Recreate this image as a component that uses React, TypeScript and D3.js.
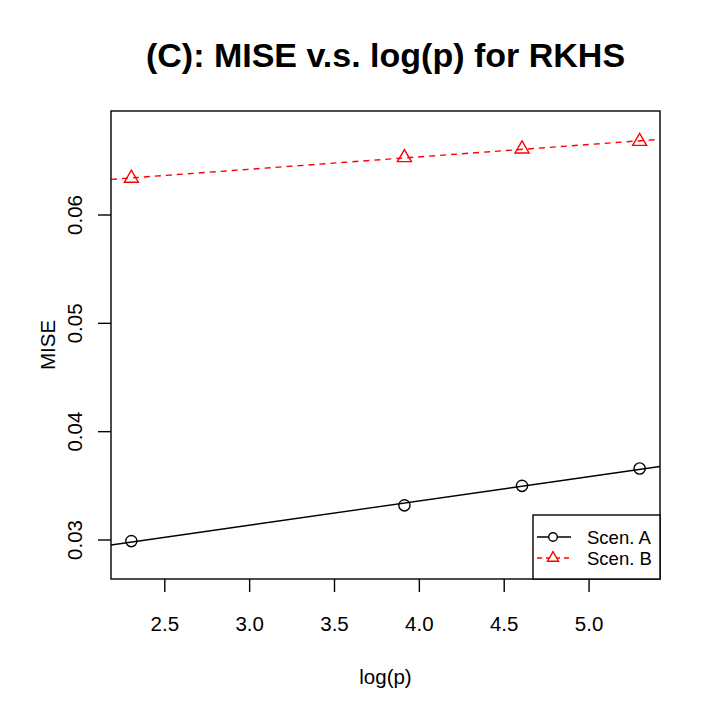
import React from 'react';
import * as d3 from 'd3';

const logP = [2.303, 3.912, 4.605, 5.298];
const miseA = [0.0299, 0.0332, 0.035, 0.0366];
const miseB = [0.0634, 0.0653, 0.0661, 0.0668];
const xTicks = [2.5, 3.0, 3.5, 4.0, 4.5, 5.0];
const yTicks = [0.03, 0.04, 0.05, 0.06];
const seriesNames = ['Scen. A', 'Scen. B'];

const W = 718;
const H = 718;
const plot = { left: 111, right: 660, top: 111, bottom: 579 };
const font = 'Liberation Sans, Arial, Helvetica, sans-serif';
const fs = 20.5;
const legendFs = 18.5;

// least squares fit, drawn across the whole panel like abline(lm(...))
function fit(xs: number[], ys: number[]) {
  const mx = d3.mean(xs)!;
  const my = d3.mean(ys)!;
  let sxy = 0;
  let sxx = 0;
  xs.forEach((x, i) => {
    sxy += (x - mx) * (ys[i] - my);
    sxx += (x - mx) * (x - mx);
  });
  const b = sxy / sxx;
  return (x: number) => my + b * (x - mx);
}

// R pch 2 style open triangle
const triPath = (r: number) => `M0,${-r * 1.15} L${r},${r * 0.58} L${-r},${r * 0.58} Z`;

export default function App() {
  const x = d3.scaleLinear().domain([2.183, 5.418]).range([plot.left, plot.right]);
  const y = d3.scaleLinear().domain([0.0264, 0.0696]).range([plot.bottom, plot.top]);
  const [x0, x1] = x.domain();

  const fA = fit(logP, miseA);
  const fB = fit(logP, miseB);

  const lg = { left: 533, top: 515, right: 660, bottom: 579 };
  const rows = [537, 558];

  return (
    <div style={{ position: 'absolute', left: 0, top: 0 }}>
      <svg width={W} height={H} style={{ display: 'block', background: '#fff' }}>
        <defs>
          <clipPath id="plotclip">
            <rect x={plot.left} y={plot.top} width={plot.right - plot.left} height={plot.bottom - plot.top} />
          </clipPath>
        </defs>

        <text x={(plot.left + plot.right) / 2} y={67} textAnchor="middle" fontFamily={font}
          fontWeight="bold" fontSize={34}>(C): MISE v.s. log(p) for RKHS</text>

        <g clipPath="url(#plotclip)">
          <line x1={x(x0)} y1={y(fA(x0))} x2={x(x1)} y2={y(fA(x1))} stroke="#000" strokeWidth={1.4} />
          <line x1={x(x0)} y1={y(fB(x0))} x2={x(x1)} y2={y(fB(x1))} stroke="#ff0000" strokeWidth={1.4}
            strokeDasharray="6,5" />
        </g>

        {logP.map((v, i) => (
          <circle key={'a' + i} cx={x(v)} cy={y(miseA[i])} r={5.6} fill="none" stroke="#000" strokeWidth={1.4} />
        ))}
        {logP.map((v, i) => (
          <path key={'b' + i} d={triPath(7)} transform={`translate(${x(v)},${y(miseB[i])})`}
            fill="none" stroke="#ff0000" strokeWidth={1.4} />
        ))}

        <rect x={plot.left} y={plot.top} width={plot.right - plot.left} height={plot.bottom - plot.top}
          fill="none" stroke="#000" strokeWidth={1.4} />

        {xTicks.map(t => (
          <g key={t}>
            <line x1={x(t)} x2={x(t)} y1={plot.bottom} y2={plot.bottom + 13} stroke="#000" strokeWidth={1.4} />
            <text x={x(t)} y={631} textAnchor="middle" fontFamily={font} fontSize={fs}>{t.toFixed(1)}</text>
          </g>
        ))}
        {yTicks.map(t => (
          <g key={t}>
            <line x1={plot.left - 13} x2={plot.left} y1={y(t)} y2={y(t)} stroke="#000" strokeWidth={1.4} />
            <text transform={`translate(82,${y(t)}) rotate(-90)`} textAnchor="middle" fontFamily={font}
              fontSize={fs}>{t.toFixed(2)}</text>
          </g>
        ))}

        <text x={(plot.left + plot.right) / 2} y={684} textAnchor="middle" fontFamily={font} fontSize={fs}>log(p)</text>
        <text transform={`translate(55,${(plot.top + plot.bottom) / 2}) rotate(-90)`} textAnchor="middle"
          fontFamily={font} fontSize={fs}>MISE</text>

        <rect x={lg.left} y={lg.top} width={lg.right - lg.left} height={lg.bottom - lg.top}
          fill="#fff" stroke="#000" strokeWidth={1.4} />
        <line x1={537} x2={571} y1={rows[0]} y2={rows[0]} stroke="#000" strokeWidth={1.4} />
        <circle cx={553} cy={rows[0]} r={4.3} fill="#fff" stroke="#000" strokeWidth={1.4} />
        <line x1={537} x2={571} y1={rows[1]} y2={rows[1]} stroke="#ff0000" strokeWidth={1.4} strokeDasharray="5,4" />
        <path d={triPath(5.5)} transform={`translate(553,${rows[1]})`} fill="#fff" stroke="#ff0000" strokeWidth={1.4} />
        {seriesNames.map((s, i) => (
          <text key={s} x={587} y={rows[i] + 6.6} fontFamily={font} fontSize={legendFs}>{s}</text>
        ))}
      </svg>
    </div>
  );
}
